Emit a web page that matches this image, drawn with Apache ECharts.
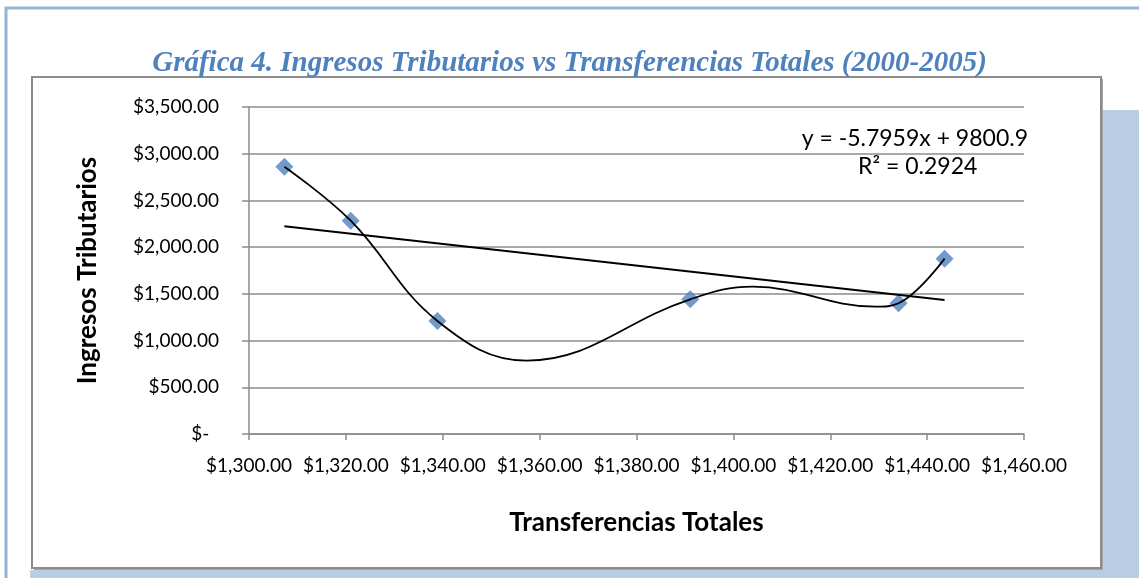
<!DOCTYPE html>
<html>
<head>
<meta charset="utf-8">
<script src="https://cdn.jsdelivr.net/npm/echarts@6/dist/echarts.min.js"></script>
<style>
  html, body { margin: 0; padding: 0; background: #fff; }
  #main { width: 1139px; height: 578px; }
</style>
</head>
<body>
<div id="main"></div>
<script>
// datos
var transferencias = [1307.3, 1321.0, 1338.9, 1391.1, 1434.1, 1443.6];
var ingresos = [2861, 2283, 1210, 1442, 1399, 1877];

// linea de tendencia lineal (extremos)
var tendenciaX = [1307.3, 1443.6];
var tendenciaY = [2224, 1434];

// curva suavizada, puntos
var curvaX = [1307.3, 1321.0, 1338.9, 1357.3, 1391.1, 1404.0, 1429.4, 1434.1, 1443.6];
var curvaY = [2861, 2283, 1210, 785, 1442, 1577, 1363, 1399, 1877];

var xTicks = [1300, 1320, 1340, 1360, 1380, 1400, 1420, 1440, 1460];
var yTicks = [0, 500, 1000, 1500, 2000, 2500, 3000, 3500];

function pares(xs, ys) {
  return xs.map(function (x, i) { return [x, ys[i]]; });
}
function dinero(v) {
  if (v === 0) return '$-  ';
  return '$' + v.toLocaleString('en-US', { minimumFractionDigits: 2, maximumFractionDigits: 2 });
}

var myChart = echarts.init(document.getElementById('main'));
myChart.setOption({
  animation: false,
  textStyle: { fontFamily: 'Lato' },
  graphic: [
    { type: 'rect', shape: { x: 1103, y: 110, width: 40, height: 480 }, style: { fill: '#b9cde5' }, silent: true, z: -10 },
    { type: 'rect', shape: { x: 30, y: 570, width: 1110, height: 10 }, style: { fill: '#b9cde5' }, silent: true, z: -10 },
    { type: 'rect', shape: { x: 6, y: 8, width: 1140, height: 580 }, style: { fill: 'none', stroke: '#95b3d7', lineWidth: 3 }, silent: true, z: -9 },
    { type: 'rect', shape: { x: 34, y: 79, width: 1069, height: 491 }, style: { fill: '#a6a6a6' }, silent: true, z: -8 },
    { type: 'rect', shape: { x: 32, y: 77, width: 1069, height: 491 }, style: { fill: '#fff', stroke: '#8c8c8c', lineWidth: 2 }, silent: true, z: -7 },
    { type: 'text', right: 111, top: 127, style: { text: 'y = -5.7959x + 9800.9', font: '23px Lato', fill: '#000' } },
    { type: 'text', left: 858, top: 155, style: { text: 'R² = 0.2924', font: '23px Lato', fill: '#000' } }
  ],
  title: {
    text: 'Gráfica 4. Ingresos Tributarios vs Transferencias Totales (2000-2005)',
    left: 'center',
    top: 44,
    textStyle: {
      fontFamily: 'Liberation Serif',
      fontStyle: 'italic',
      fontWeight: 'bold',
      fontSize: 29,
      color: '#4f81bd'
    }
  },
  grid: { left: 249, right: 115, top: 107, bottom: 144 },
  xAxis: {
    type: 'value',
    min: 1300,
    max: 1460,
    interval: 20,
    name: 'Transferencias Totales',
    nameLocation: 'middle',
    nameGap: 76,
    nameTextStyle: { fontFamily: 'Lato', fontWeight: 'bold', fontSize: 26, color: '#000' },
    axisLine: { lineStyle: { color: '#8c8c8c', width: 1.5 } },
    axisTick: { show: true, length: 6, lineStyle: { color: '#8c8c8c', width: 1.5 } },
    axisLabel: {
      margin: 22,
      fontSize: 19,
      color: '#000',
      formatter: function (v) { return xTicks.indexOf(v) >= 0 ? dinero(v) : ''; }
    },
    splitLine: { show: false }
  },
  yAxis: {
    type: 'value',
    min: 0,
    max: 3500,
    interval: 500,
    name: 'Ingresos Tributarios',
    nameLocation: 'middle',
    nameGap: 148,
    nameRotate: 90,
    nameTextStyle: { fontFamily: 'Lato', fontWeight: 'bold', fontSize: 26, color: '#000' },
    axisLine: { show: true, lineStyle: { color: '#8c8c8c', width: 1.5 } },
    axisTick: { show: true, length: 7, lineStyle: { color: '#8c8c8c', width: 1.5 } },
    axisLabel: {
      margin: 30,
      fontSize: 19,
      color: '#000',
      formatter: function (v) { return yTicks.indexOf(v) >= 0 ? dinero(v) : ''; }
    },
    splitLine: { show: true, lineStyle: { color: '#8c8c8c', width: 1.5 } }
  },
  series: [
    {
      type: 'scatter',
      data: pares(transferencias, ingresos),
      symbol: 'diamond',
      symbolSize: 18,
      itemStyle: { color: '#4f81bd' },
      z: 2
    },
    {
      type: 'line',
      data: pares(curvaX, curvaY),
      smooth: 0.4,
      showSymbol: false,
      symbol: 'none',
      lineStyle: { color: '#000', width: 1.8 },
      z: 3
    },
    {
      type: 'line',
      data: pares(tendenciaX, tendenciaY),
      showSymbol: false,
      symbol: 'none',
      lineStyle: { color: '#000', width: 2 },
      z: 3
    }
  ]
});
</script>
</body>
</html>
